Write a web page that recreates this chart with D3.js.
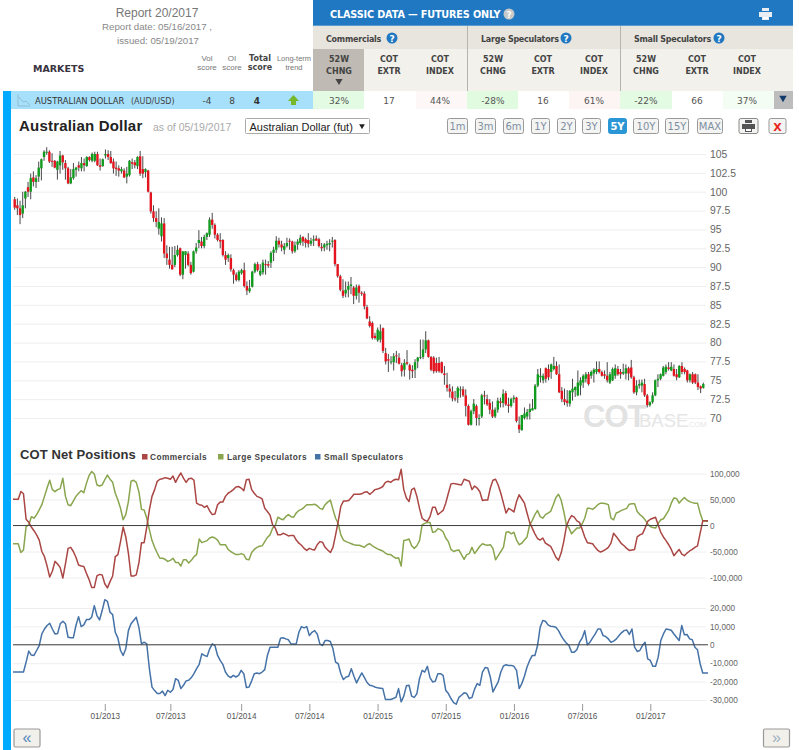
<!DOCTYPE html>
<html>
<head>
<meta charset="utf-8">
<title>Australian Dollar</title>
<script src="https://cdnjs.cloudflare.com/ajax/libs/d3/7.8.5/d3.min.js"></script>
<style>
  html, body { margin: 0; padding: 0; background: #fff; overflow: hidden; }
  svg { display: block; }
</style>
</head>
<body>
<svg id="page" width="799" height="750"></svg>
<script>
// Weekly candles, May 2012 to May 2017.
const priceOpen = [
  99,98.2,97.8,97.1,99.1,100.6,100,101.9,101.3,102,103.1,104.6,105.2,105.3,104.1,104.1,102.9,103.5,104.8,103.8,
  103.1,101.1,101.8,102.9,103.5,103.1,103.8,103.4,104.6,104.1,104.1,105,103.5,103.4,104.8,105,104.6,104,103.2,103.1,
  102.7,102.8,102,102.2,103.9,103.9,103.4,104.7,103,102.6,102.8,99.9,97.4,96.5,95.1,94.1,95.8,91.8,91,
  90.3,90.3,91.6,92.5,89,91.6,91.8,90.3,89.4,92.1,93.2,93.4,92.8,94,94.3,96.3,95.6,94.3,93.6,93.6,91.6,91.2,91.2,89.6,89,88.3,89.2,89.6,87.5,86.8,87.4,89.4,90.4,
  89,89.3,90.4,90.4,90.6,91.9,92.3,93.5,93,92.3,92.8,93.5,93.4,92.1,93,93.2,94,93.7,93.6,93.1,93.5,93.8,93.7,92.7,92.6,92.9,93,93.5,
  93.6,90.4,88.8,86.9,86.5,87,87.5,87.3,86.2,87.5,86.6,86.5,84.7,82.8,82.6,80.9,80.3,80.4,81.9,78.6,77.8,77.5,77.4,78.3,78,77,76.4,77.4,77,76.4,76.4,77.5,78.1,78.1,79.1,80.3,78.1,78,77.3,77.3,77.4,75.9,74.4,73.9,73.5,72.6,72.7,73.8,73.8,73,71.6,69.1,70.9,71.6,70,70.2,73,72.5,72,71.1,70.2,71.1,72.2,72,73.3,71.8,71.6,72.5,72.7,69.1,
  68.4,70,70.2,70.8,71,71.2,74.3,75.4,75,76.6,76.5,76.1,76.5,76.9,75.8,73.6,72.5,72.3,71.9,73.4,73.7,73,74.3,74.7,75.2,75.8,75.6,75.9,76.1,76.5,76.1,75.8,75.6,74.7,75,75.6,76.5,76.1,75.9,75.9,76.6,76.7,75.4,73.4,74.3,74.3,74.5,73,71.7,72.1,73,75,75.2,75.6,76.1,76.7,76.3,76.5,75.8,75.4,76.9,76.5,76.3,75,75.8,75.8,74.7,74.2,74
];
const priceClose = [
  97.9,97.8,96.9,98.2,100,100,101.8,101.3,101.8,103.2,104.3,105.3,105.3,104,104,103.2,104,104.8,103.9,103.1,
  101.1,101.9,103,103.2,103.2,103.8,103.5,104.6,104.2,105,105,103.5,103.3,104.3,105,104.6,103.8,103.1,103,102.8,
  103,101.9,102.4,104.1,103.7,103.5,104.6,102.4,102.4,103,100,97.4,96.5,96,96,95.8,91.8,91.2,90.3,
  89.7,91.6,92.3,89,92.1,92.1,90.3,89.2,92.1,92.6,93.6,92.8,94,94.5,96.3,95.6,94.3,93.6,93.4,91.6,91,91.6,89.7,89,88.3,89.4,89.6,87.5,86.9,87.2,89.4,90.4,89.6,
  89.5,90.6,90.3,90.2,91.9,92.3,93.5,93,92.6,92.8,93.2,93.4,92.1,92.9,93.4,93.9,93.4,93.2,93.1,93.5,93.7,93.5,92.8,92.5,93,93.1,93.2,93.5,
  90.4,88.8,87,86.2,87,87.5,87.7,86.2,87.3,86.6,86.5,84.8,83.2,82.2,80.6,80.6,81.7,81.5,78.9,77.5,77.6,77.5,78.2,78.2,77.2,76.2,77.3,77.2,76.3,76.2,77.4,78,78.1,79.1,80.3,78.1,76.4,76.2,76.2,76.2,76,75.7,74,73.5,72.6,72.5,74,73.8,73,71.6,69.1,70.9,71.9,70,70,73,72.9,71.8,71.1,70.2,71.1,72.3,72,73.2,71.8,71.6,72.5,72.7,69.6,68.5,
  70.4,70.6,70.8,71.2,71.3,74.3,75.8,75.6,75.6,75.2,75.4,77.1,76.9,75.8,73.4,72.5,72.1,72,73.6,73.9,74.1,74.7,75,75.6,75.8,74.5,76.1,76.4,76.5,76.1,75.6,75.6,75,75.8,76.5,76.6,75.8,75.8,76.1,76.6,75.9,75.4,73.4,74.3,74.5,74.7,73,71.7,72.1,73,75,75.2,75.8,76.7,76.8,76.5,76.8,75.6,75.4,76.9,76.1,76.1,75,75.8,74.7,74.7,74.1,73.9,74.5
];
const priceHigh = [
  99.3,99.1,98.8,100,100.1,101.3,102.4,102.7,102.2,104,104.4,105.5,105.9,105.5,105.1,104.2,104.1,105.4,104.9,104.2,
  103.3,103,103.8,103.3,104,104.6,104.4,104.7,104.7,105.2,105.3,105.3,104.4,104.4,105.6,105.5,105.4,104.4,104,103.5,
  103.3,103.1,103.3,104.2,104.4,104.2,104.7,105.4,104.7,103.1,102.9,100,98.2,97.4,97.8,96.6,96.5,92.9,92.7,
  92.7,92.8,92.9,92.6,92.1,92.1,92.1,90.7,92.2,93.2,94.9,94,94.3,94.6,96.6,97.2,95.8,94.5,94.5,93.7,92.1,91.8,91.7,89.8,89.3,89.6,89.8,90.6,88.1,88.3,89.5,90.6,90.7,
  90.4,91,91,90.8,92.1,92.7,94.1,93.9,93.5,93.2,93.9,93.8,93.5,93.4,93.7,94.3,94.1,93.9,94.5,93.9,94.2,94.2,93.9,93.2,93.2,93.5,93.7,94,
  93.7,90.4,89,88.4,88.1,88.1,88.7,87.5,87.7,87.7,86.8,86.8,85,83.5,82.8,81.3,82,82.4,82,79.3,78.5,78.2,78.6,78.9,78.6,77.3,77.8,79,77.2,77,77.8,78.1,80.4,80.4,81.5,80.4,78.2,78.2,78,78.1,77.5,76.9,76,74.5,74.2,73.6,74.2,74.2,74.2,73.8,71.8,71.1,72.5,71.8,70.5,73.2,73.6,73.1,72.5,72.2,71.4,72.7,72.7,73.8,73.6,72.7,72.7,73,72.8,70.2,
  70.4,71.4,71.2,71.9,72.5,74.5,76.5,76.6,75.9,76.7,77.1,77.2,78.1,77.5,77.1,74.1,73.9,73.7,73.7,75.2,74.2,76.3,75.4,75.8,76.1,76.1,76.3,76.6,77.5,77.5,76.3,76.3,77.4,76.1,76.7,77.1,76.9,76.5,77.2,77.1,76.8,77.7,75.6,75,75.1,75.1,75.2,73.2,72.2,73.4,75.1,75.8,75.9,76.9,77.1,77.4,77.4,77.1,76.5,77,77.4,76.7,76.4,75.9,76.1,75.9,75.8,74.3,74.7
];
const priceLow = [
  97.6,96.9,95.7,96.5,97.8,99.3,99,100.7,100.5,101.3,101.5,104.1,104.9,103.8,103.3,103.1,101.6,102.4,102.9,101.6,
  101,101,101.6,102,102.7,102.7,102.7,103.3,104,103.9,103.9,103.4,102.8,103.3,104.4,104.2,103.7,102.4,102.1,102,
  102.4,101.8,101.1,102,103,103.1,103,102.1,101.8,101.9,99.9,97.1,96,95.3,94.3,93.4,91.2,90.3,89.8,
  89.7,90,91.4,88.8,88.4,89.8,90.1,89,89.3,91.8,92.5,92.5,92.5,93.6,94,95.1,93.8,93.4,92.5,91.4,90.3,90.7,89.4,87.8,88.1,88.1,89,87.3,86.3,86.6,87.3,89.2,89.4,
  88.8,89,89,89.9,89.9,90.8,91.9,92.6,92.1,91.7,92.6,92.3,91.8,91.9,92.3,92.9,92.8,92.6,92.6,92.8,92.8,93.5,92.6,92.1,92.1,92.3,92.1,92.6,
  90.1,88.6,86.8,85.9,86,86,86.4,85.1,85.7,85.3,86.2,84.4,83.1,82,80.4,80.4,80.1,80,78.6,77.1,76.1,77.1,76.3,77.3,77.1,75.5,75.5,77,75.1,75.3,75.3,76.6,77.8,77.8,78.6,78,76.2,75.9,76,76,75.9,74.4,73.5,72.7,72.2,72.2,72,72.7,72.8,70.2,69,69,70.5,69,69,70,71.8,71.6,70.5,70,70,70.7,71.4,71.4,71.6,70.7,71.4,72,69.4,68,
  68.3,69.8,69.8,69.8,71,71.1,74.1,74.7,74.6,74.7,75,75.2,76.3,75.7,73.3,72.1,71.7,71.5,71.5,72.3,72.8,72.9,73,74,74.7,74.3,75.2,74.7,75.8,75.9,75.5,75.2,74.7,74.5,74.9,75.2,75.6,75.2,75.7,75.1,75,75.2,73.2,73,73.9,73.4,72.8,71.4,71.5,71.9,72.9,74.1,75,75.5,75.8,76.3,76.2,75.5,75,75.3,75.8,75.8,74.7,74.7,74.5,74.5,73.7,73.3,73.9
];
const priceTicks = [70, 72.5, 75, 77.5, 80, 82.5, 85, 87.5, 90, 92.5, 95, 97.5, 100, 102.5, 105];

// Net positions, thousands of contracts, weekly.
const commercials = [
  50.6,50.6,50.6,65.4,61,12,6.4,-3,-10,-18,-28,-50,-60,-78,-99,-88,-69,-74,-81,-101,-74,-44,-42,-50,-61,-76,-78,-79,-92,-104,
  -119,-119,-97,-94,-95,-112,-120,-108,-97,-60,-56,-31,-3,-22,-53,-97,-97,-95,-72,-33,-33,-3,30,56,69,85,89,90,92,91,
  89,95,83,93,101,91,83,90,91,87,43,40,39,35,38,28,21,22,40,45,45,56,62,65,69,74,75,72,67,88,89,69,62,56,54,51,33,27,20,
  1,-5,-18,-18,-15,-17,-20,-19,-19,-28,-34,-38,-44,-48,-44,-46,-47,-37,-31,-32,-42,-47,-52,-42,-18,8,37,47,47,48,
  54,60,60,60,61,64,65,60,64,69,70,72,75,83,85,83,87,89,88,108,69,53,46,69,72,56,33,14,10,8,
  17,35,35,21,25,29,43,62,80,81,80,79,78,89,87,85,69,76,72,65,48,49,49,72,87,89,78,62,43,24,
  33,30,26,46,59,51,43,24,6,-5,-16,-25,-28,-24,-34,-37,-40,-50,-61,-67,-53,-31,-2,11,19,16,9,6,-7,-22,
  -33,-34,-35,-42,-48,-51,-49,-46,-42,-34,-15,-21,-28,-35,-39,-44,-48,-47,-46,-22,-18,-16,-5,8,12,14,16,1,-13,-22,
  -29,-37,-46,-58,-52,-46,-55,-58,-53,-49,-46,-42,-39,-15,9,9,9
];
const largeSpecs = [
  -35,-35,-35,-52,-47,-2,1,17,14,21,30,40,56,72,87,69,65,69,71,91,56,40,38,47,56,62,67,63,81,96,
  104,99,78,76,78,88,97,89,83,62,49,33,11,21,46,85,87,83,65,31,30,14,-8,-29,-42,-53,-63,-63,-65,-69,
  -67,-63,-71,-71,-78,-66,-66,-72,-67,-60,-56,-26,-33,-31,-29,-24,-22,-24,-28,-37,-37,-37,-46,-50,-53,-56,-56,-54,-56,-65,-66,-52,-46,-42,-40,-39,-31,-23,-18,
  -5,0,16,13,11,17,21,17,16,24,29,31,35,40,40,40,41,38,33,31,40,45,49,31,14,4,-18,-28,-31,-33,
  -35,-37,-38,-38,-40,-42,-37,-35,-39,-42,-45,-47,-49,-53,-56,-56,-60,-63,-62,-78,-29,-28,-26,-39,-44,-39,-29,1,4,6,
  6,-13,-12,-6,-8,-12,-24,-31,-46,-50,-48,-47,-56,-65,-56,-54,-42,-54,-47,-40,-35,-37,-38,-37,-44,-66,-58,-50,-42,-13,
  -12,-16,-13,-28,-37,-34,-28,-22,1,10,21,29,17,14,21,24,27,40,54,60,49,27,1,-5,-16,-10,-5,-5,3,14,
  33,33,31,35,40,43,43,42,40,14,11,24,26,29,31,33,41,42,42,27,21,17,11,3,-2,-4,-5,4,11,13,
  21,29,43,53,52,43,49,54,49,46,44,43,43,24,9,8,8
];
const smallSpecs = [
  -14.8,-14.8,-14.8,-14.8,-14.8,-9.4,-3.4,-5.6,-5.8,-3.1,-0.4,5.9,8.6,10.5,11.7,8.6,5.9,6.1,11.4,12.8,11.4,4.1,3.8,3.8,10.5,15.3,9.9,10.8,13.7,13.7,
  15,21.3,15.9,13.5,18.6,24.5,23.6,17.7,16.4,6.8,3.6,-3.1,-5.8,-2.2,7.7,11.4,13.2,15,9.5,0.5,1.4,0.5,-13,-23,-24.9,-26.5,-26.5,-25.2,-27.6,-24.7,
  -25.8,-24.3,-18.4,-19.3,-23.8,-22,-19.6,-19.3,-17.8,-15.7,-13,-10.6,-4.9,-5.8,-6.3,-2.2,0.5,-0.4,-5.8,-8.5,-10.6,-14.8,-16.9,-17.8,-16.6,-17.5,-16.6,-13.9,-15.7,-23.2,
  -22.9,-19.6,-15.7,-15.3,-15.7,-14.8,-13.5,-5.8,-1.3,-1.3,-1.3,-1.3,3.6,3.8,3.2,2.7,0.5,0.5,0.5,6.8,9.9,9.2,9.9,5,6.8,7.7,5.9,0.5,-0.4,2.3,
  2.3,1.8,-2.2,-9.4,-10.3,-15.7,-18.9,-17.5,-17.1,-13,-17.1,-20.7,-17.8,-15.3,-17.8,-20.5,-22,-22.3,-22.9,-23.4,-23.6,-23.8,-29.7,-29.7,-29.7,-29.2,-28.6,-23.8,
  -31,-27.9,-22.3,-22,-27.9,-28.6,-26.5,-18.4,-13.9,-14.8,-11.7,-17.8,-20.2,-19.8,-15.7,-15.7,-16.6,-24.7,-26.5,-29.2,-31.4,-32.3,-28.6,-27.4,-26.1,-26.5,-29.2,-28.6,-24.1,-21.1,
  -22,-14.8,-12.4,-12.6,-17.5,-25.6,-22.9,-20.2,-14.8,-11.5,-10.8,-11.2,-11.2,-11.7,-13.9,-23.8,-21.1,-17.1,-12.1,-8.5,-5.8,-5.8,-0.4,9.5,13.2,12.8,10.8,10.1,9.9,9.5,
  7.7,5,2.7,0.9,-0.4,-4.1,-4,-2.7,1.4,3.6,7.7,0,1.4,3.8,5.9,8.6,8.6,5,4.5,3.2,1.4,2,3.1,4.9,6.5,7.7,8.1,5.6,8.6,-1.3,
  -3.6,-3.1,-0.4,1.4,-7.6,-8.5,-11.7,-11.7,-6.7,2.3,5.9,8.6,8.3,7.9,5.9,4.1,2.3,10.5,5.4,5.6,3.2,2.7,-1.3,-2.7,-10.3,-15.3,-15.3,-15.3
];
const bigPaneTicks = [-100, -50, 0, 50, 100];
const smallPaneTicks = [-30, -20, -10, 0, 10, 20];
const dateTickWeeks = [35, 60, 87, 113, 139, 165, 191, 217, 243];
const dateTickLabels = ["01/2013", "07/2013", "01/2014", "07/2014", "01/2015", "07/2015", "01/2016", "07/2016", "01/2017"];

// Table row values.
const groups = ["Commercials", "Large Speculators", "Small Speculators"];
const colHeads = [["52W","CHNG"],["COT","EXTR"],["COT","INDEX"],["52W","CHNG"],["COT","EXTR"],["COT","INDEX"],["52W","CHNG"],["COT","EXTR"],["COT","INDEX"]];
const colValues = ["32%","17","44%","-28%","16","61%","-22%","66","37%"];
const colShades = ["#e2fbe2","#fff","#fdf8f7","#e1fbe1","#fff","#fdf4f4","#e3fbe3","#fff","#f3fdf3"];
const ranges = ["1m","3m","6m","1Y","2Y","3Y","5Y","10Y","15Y","MAX"];

const svg = d3.select("#page");
const VERDANA = "'DejaVu Sans', Verdana, sans-serif";
const ARIAL = "'Liberation Sans', Arial, sans-serif";

function label(x, y, text, size, color, opts) {
  opts = opts || {};
  return svg.append("text")
    .attr("x", x).attr("y", y)
    .attr("font-family", opts.font || VERDANA)
    .attr("font-size", size)
    .attr("font-weight", opts.bold ? "bold" : "normal")
    .attr("text-anchor", opts.anchor || "start")
    .attr("letter-spacing", opts.spacing || 0)
    .attr("fill", color)
    .text(text);
}
function box(x, y, w, h, fill) {
  return svg.append("rect").attr("x", x).attr("y", y).attr("width", w).attr("height", h).attr("fill", fill);
}
function helpDot(x, y, fill) {
  svg.append("circle").attr("cx", x).attr("cy", y).attr("r", 5.5).attr("fill", fill);
  label(x, y + 3.5, "?", 9, "#fff", {bold: true, anchor: "middle"});
}
function printer(x, y, color) {
  box(x, y, 7, 3, color);
  box(x - 3, y + 4, 13, 5, color);
  box(x, y + 8, 7, 4, color);
  box(x + 1, y + 9, 5, 2, "#fff");
}

// Header table.
label(157, 17, "Report 20/2017", 12, "#777", {font: ARIAL, anchor: "middle"});
label(157, 30, "Report date: 05/16/2017 ,", 9.7, "#888", {font: ARIAL, anchor: "middle"});
label(158, 44, "issued: 05/19/2017", 9.7, "#888", {font: ARIAL, anchor: "middle"});
label(33, 72, "MARKETS", 9.5, "#3a3340", {bold: true});
label(207, 61, "Vol", 8, "#777", {font: ARIAL, anchor: "middle"});
label(207, 70, "score", 8, "#777", {font: ARIAL, anchor: "middle"});
label(232, 61, "OI", 8, "#777", {font: ARIAL, anchor: "middle"});
label(232, 70, "score", 8, "#777", {font: ARIAL, anchor: "middle"});
label(260, 61, "Total", 8, "#444", {bold: true, anchor: "middle"});
label(260, 70, "score", 8, "#444", {bold: true, anchor: "middle"});
label(294, 61, "Long-term", 7.5, "#777", {font: ARIAL, anchor: "middle"});
label(294, 70, "trend", 7.5, "#777", {font: ARIAL, anchor: "middle"});

box(313, 0, 480, 25, "#1f78c1");
box(313, 25, 480, 1, "#5b9bd0");
label(330, 18, "CLASSIC DATA \u2014 FUTURES ONLY", 9.7, "#fff", {bold: true, spacing: -0.15});
helpDot(509, 14, "#c8c8c8");
printer(762, 8, "#e8eef4");

box(313, 26, 480, 23, "#e8e5de");
box(313, 49, 480, 42, "#f2f1ec");
box(313, 49, 51, 42, "#bfbab3");
svg.append("path").attr("d", d3.symbol(d3.symbolTriangle, 22)()).attr("fill", "#444")
  .attr("transform", "translate(339,81) rotate(180)");
box(467, 26, 1, 65, "#b5b5b0");
box(620, 26, 1, 65, "#b5b5b0");

const colCenters = [339, 389, 440, 493, 543, 594, 646, 697, 747];
const colLefts = [313, 364, 416, 467, 518, 569, 620, 672, 723];
const groupLefts = [326, 481, 634];
const groupDots = [392, 566, 719];
groups.forEach(function(g, i) {
  label(groupLefts[i], 42, g, 8, "#444", {bold: true, spacing: -0.25});
  helpDot(groupDots[i], 38, "#1f78c1");
});
box(3, 91, 310, 18, "#a6e0fb");
box(3, 91, 8, 659, "#00aaff");
colHeads.forEach(function(h, i) {
  label(colCenters[i], 62, h[0], 8, "#444", {bold: true, anchor: "middle"});
  label(colCenters[i], 74, h[1], 8, "#444", {bold: true, anchor: "middle"});
  box(colLefts[i], 91, (i < 8 ? colLefts[i + 1] : 774) - colLefts[i], 18, colShades[i]);
  label(colCenters[i], 104, colValues[i], 9, "#555", {anchor: "middle"});
});
box(774, 91, 19, 18, "#bdbdbd");
svg.append("path").attr("d", d3.symbol(d3.symbolTriangle, 24)()).attr("fill", "#123a6b")
  .attr("transform", "translate(783,98) rotate(180)");

// Market row.
svg.append("path").attr("d", "M18 94V106H30M19 97L23 102L26 101L30 105").attr("fill", "none")
  .attr("stroke", "#8fb5c6").attr("stroke-width", 0.8);
label(35, 104, "AUSTRALIAN DOLLAR", 8.4, "#333");
label(131, 104, "(AUD/USD)", 8, "#444");
label(207, 104, "-4", 9, "#444", {anchor: "middle"});
label(232, 104, "8", 9, "#444", {anchor: "middle"});
label(257, 104, "4", 9, "#333", {bold: true, anchor: "middle"});
svg.append("path").attr("d", "M293.5 95L299 101H296V105H291V101H288Z").attr("fill", "#76b82a");

// Chart title bar.
label(19, 131, "Australian Dollar", 15, "#222", {font: ARIAL, bold: true, spacing: 0.2});
label(153, 131, "as of 05/19/2017", 10.5, "#aaa", {font: ARIAL});
svg.append("rect").attr("x", 245.5).attr("y", 118.5).attr("width", 124).attr("height", 15)
  .attr("fill", "#fff").attr("stroke", "#aaa").attr("rx", 1);
label(249.5, 131, "Australian Dollar (fut)", 11, "#222", {font: ARIAL});
svg.append("path").attr("d", d3.symbol(d3.symbolTriangle, 14)()).attr("fill", "#222")
  .attr("transform", "translate(362,126) rotate(180)");

const rangeEdges = [[447,468],[475,496],[503,524],[531,550],[557,576],[582,601],[608,627],[633,659],[665,689],[697,723]];
ranges.forEach(function(r, i) {
  const on = r == "5Y";
  const e = rangeEdges[i];
  svg.append("rect").attr("x", e[0] + 0.5).attr("y", 118.5).attr("width", e[1] - e[0] - 1).attr("height", 15)
    .attr("rx", 2).attr("fill", on ? "#2a96d6" : "#f4f4f2").attr("stroke", on ? "#2a96d6" : "#999").attr("stroke-width", 1);
  label((e[0] + e[1]) / 2, 130, r, 10, on ? "#fff" : "#7d8fa3", {anchor: "middle", bold: on});
});
svg.append("rect").attr("x", 739).attr("y", 118.5).attr("width", 19).attr("height", 15).attr("rx", 2)
  .attr("fill", "#f4f4f2").attr("stroke", "#888");
printer(745, 120, "#555");
svg.append("rect").attr("x", 769).attr("y", 118.5).attr("width", 17).attr("height", 15).attr("rx", 2)
  .attr("fill", "#f4f4f2").attr("stroke", "#999");
label(777.5, 130.5, "X", 11, "#e8281c", {anchor: "middle", bold: true});

// Price pane.
const gridRight = 706;
const yPrice = d3.scaleLinear().domain([70, 105]).range([418, 154]);
const xCandle = d3.scaleLinear().domain([0, priceOpen.length - 1]).range([14.7, 703.3]);

function styleValueAxis(g) {
  g.select(".domain").remove();
  g.selectAll(".tick line").attr("x1", 13 - gridRight).attr("x2", 0).attr("stroke", "#eeeeee");
  g.selectAll(".tick text").attr("x", 4).attr("font-family", ARIAL).attr("fill", "#666");
}

svg.append("g").attr("transform", `translate(${gridRight},0)`)
  .call(d3.axisRight(yPrice).tickValues(priceTicks).tickFormat(d => d))
  .call(styleValueAxis)
  .call(g => g.selectAll(".tick text").attr("font-size", 10.4));

// Watermark sits under the candles.
label(583, 427, "COT", 31, "#e2e2e2", {font: ARIAL, bold: true, spacing: -1});
label(639, 427, "BASE", 18.5, "#e6e6e6", {font: ARIAL});
label(687, 427, ".COM", 7.5, "#e6e6e6", {font: ARIAL});

const candles = svg.append("g").selectAll("g")
  .data(priceOpen.map((o, i) => ({i: i, o: o, c: priceClose[i], h: priceHigh[i], l: priceLow[i]})))
  .join("g");
candles.append("line")
  .attr("x1", d => xCandle(d.i)).attr("x2", d => xCandle(d.i))
  .attr("y1", d => yPrice(d.h)).attr("y2", d => yPrice(d.l))
  .attr("stroke", "#333").attr("stroke-width", 0.9);
candles.append("rect")
  .attr("x", d => xCandle(d.i) - 1.2)
  .attr("width", 2.4)
  .attr("y", d => yPrice(Math.max(d.o, d.c)))
  .attr("height", d => Math.max(1, Math.abs(yPrice(d.o) - yPrice(d.c))))
  .attr("fill", d => d.c >= d.o ? "#119b1e" : "#e3141e");

// COT panes.
const xWeek = d3.scaleLinear().domain([0, commercials.length - 1]).range([13, 708]);
const yBig = d3.scaleLinear().domain([-100, 100]).range([577.5, 473.5]);
const ySmall = d3.scaleLinear().domain([-30, 20]).range([700, 608]);
const numberLabel = d => (d * 1000).toLocaleString("en-US");

label(20, 459, "COT Net Positions", 13, "#333", {font: ARIAL, bold: true, spacing: 0.1});
const legendColors = ["#AA4643", "#89A54E", "#4572A7"];
const legendBoxes = [142, 218, 315];
const legendTexts = [150, 227, 324];
groups.forEach(function(g, i) {
  box(legendBoxes[i], 454, 5.5, 5.5, legendColors[i]);
  label(legendTexts[i], 460, g, 8.3, "#444", {font: ARIAL, bold: true, spacing: 0.45});
});

svg.append("g").attr("transform", `translate(${gridRight},0)`)
  .call(d3.axisRight(yBig).tickValues(bigPaneTicks).tickFormat(numberLabel))
  .call(styleValueAxis)
  .call(g => g.selectAll(".tick text").attr("font-size", 8.2));
svg.append("g").attr("transform", `translate(${gridRight},0)`)
  .call(d3.axisRight(ySmall).tickValues(smallPaneTicks).tickFormat(numberLabel))
  .call(styleValueAxis)
  .call(g => g.selectAll(".tick text").attr("font-size", 8.2));

function drawSeries(values, scale, color) {
  svg.append("path")
    .datum(values)
    .attr("fill", "none")
    .attr("stroke", color)
    .attr("stroke-width", 1.5)
    .attr("stroke-linejoin", "round")
    .attr("d", d3.line().x((d, i) => xWeek(i)).y(d => scale(d)));
}
drawSeries(largeSpecs, yBig, legendColors[1]);
drawSeries(commercials, yBig, legendColors[0]);
drawSeries(smallSpecs, ySmall, legendColors[2]);

// Zero lines on top of the series.
[yBig, ySmall].forEach(function(s) {
  svg.append("line").attr("x1", 13).attr("x2", 708).attr("y1", s(0)).attr("y2", s(0))
    .attr("stroke", "#444").attr("stroke-width", 1.1);
});

// Date axis.
svg.append("g").attr("transform", "translate(0,704)")
  .call(d3.axisBottom(xWeek).tickValues(dateTickWeeks).tickFormat((d, i) => dateTickLabels[i]).tickSize(7).tickPadding(2))
  .call(g => g.select(".domain").remove())
  .call(g => g.selectAll(".tick line").attr("stroke", "#999"))
  .call(g => g.selectAll(".tick text").attr("font-family", ARIAL).attr("font-size", 8.2).attr("fill", "#555"));

// Scroll buttons.
function scrollButton(x, w, glyph, color) {
  svg.append("rect").attr("x", x).attr("y", 729).attr("width", w).attr("height", 18).attr("rx", 1.5)
    .attr("fill", "#f2f0eb").attr("stroke", "#999").attr("stroke-width", 1.2);
  label(x + w / 2, 743, glyph, 16, color, {anchor: "middle", font: ARIAL});
}
scrollButton(14, 26, "\u00ab", "#4f86bd");
scrollButton(763.5, 26, "\u00bb", "#9fb0bf");
</script>
</body>
</html>
